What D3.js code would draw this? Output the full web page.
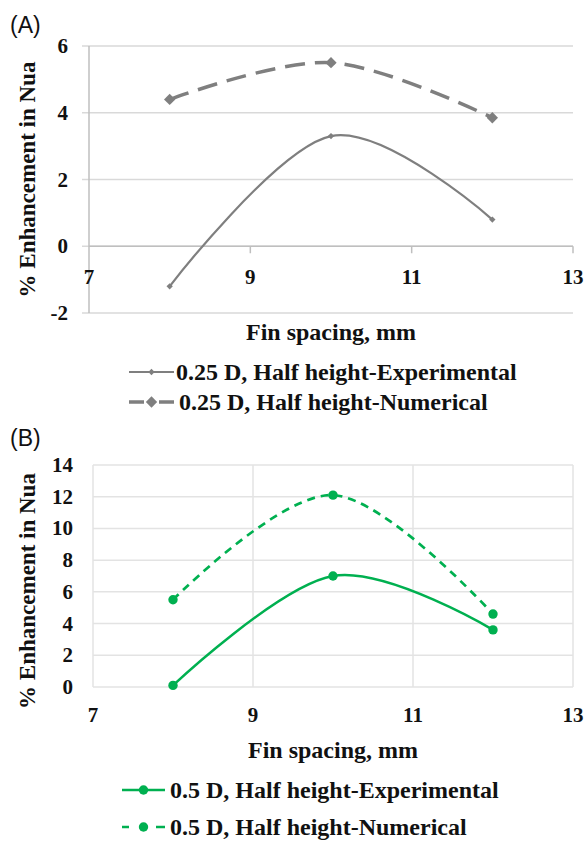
<!DOCTYPE html>
<meta charset="utf-8">
<script src="https://d3js.org/d3.v7.min.js"></script>
<style>
  body { margin: 0; background: #fff; }
  svg text { font-family: 'Liberation Serif', 'Tinos', 'Times New Roman', 'DejaVu Serif', serif; font-weight: 700; fill: #111; }
  svg text.panel-label { font-family: 'Liberation Sans', Arial, sans-serif; font-weight: 400; font-size: 23px; }
</style>
<body>
<div id="chart"></div>
<script>

// ---- data ----
const finSpacing = [8, 10, 12];
const aExperimental = [-1.2, 3.3, 0.8];
const aNumerical = [4.4, 5.5, 3.85];
const bExperimental = [0.1, 7.0, 3.6];
const bNumerical = [5.5, 12.1, 4.6];

const xTicks = [7, 9, 11, 13];
const aYTicks = [-2, 0, 2, 4, 6];
const bYTicks = [0, 2, 4, 6, 8, 10, 12, 14];

const aLegend = ["0.25 D, Half height-Experimental", "0.25 D, Half height-Numerical"];
const bLegend = ["0.5 D, Half height-Experimental", "0.5 D, Half height-Numerical"];

const grey = "#7f7f7f";
const green = "#00b050";
const gridColor = "#d9d9d9";

const svg = d3.select("#chart").append("svg")
  .attr("width", 588)
  .attr("height", 842);

svg.append("rect").attr("width", 588).attr("height", 842).attr("fill", "#fff");

const curve = d3.curveCatmullRom.alpha(0);
// diamonds = squares turned 45 degrees
const square = d3.symbol().type(d3.symbolSquare);
const bigDiamond = square.size(64)();
const smallDiamond = square.size(20)();

// ---------------- panel A ----------------
const xA = d3.scaleLinear().domain([7, 13]).range([89, 573]);
const yA = d3.scaleLinear().domain([-2, 6]).range([313, 46]);
const gA = svg.append("g");

gA.append("text").attr("class", "panel-label").attr("x", 10).attr("y", 33).text("(A)");

// horizontal gridlines (with small outward ticks)
gA.selectAll(".grid").data(aYTicks).join("line")
  .attr("x1", xA(7) - 7).attr("x2", xA(13))
  .attr("y1", d => yA(d)).attr("y2", d => yA(d))
  .attr("stroke", gridColor).attr("stroke-width", 1.5);

// vertical axis
gA.append("line")
  .attr("x1", xA(7)).attr("x2", xA(7))
  .attr("y1", yA(6)).attr("y2", yA(-2))
  .attr("stroke", "#bfbfbf").attr("stroke-width", 1.5);

// x axis at y = 0 with downward ticks
gA.append("line")
  .attr("x1", xA(7)).attr("x2", xA(13))
  .attr("y1", yA(0)).attr("y2", yA(0))
  .attr("stroke", "#bfbfbf").attr("stroke-width", 1.5);
gA.selectAll(".xt").data(xTicks.slice(1)).join("line")
  .attr("x1", d => xA(d)).attr("x2", d => xA(d))
  .attr("y1", yA(0)).attr("y2", yA(0) + 7)
  .attr("stroke", "#bfbfbf").attr("stroke-width", 1.5);

gA.selectAll(".yl").data(aYTicks).join("text")
  .attr("x", 68).attr("y", d => yA(d) + 7)
  .attr("text-anchor", "end").style("font-size", "21px")
  .text(d => d);

gA.selectAll(".xl").data(xTicks).join("text")
  .attr("x", d => xA(d)).attr("y", yA(0) + 38)
  .attr("text-anchor", "middle").style("font-size", "21px")
  .text(d => d);

gA.append("text")
  .attr("transform", `translate(35,${(yA(6) + yA(-2)) / 2}) rotate(-90)`)
  .attr("text-anchor", "middle").style("font-size", "23px")
  .text("% Enhancement  in Nua");

gA.append("text")
  .attr("x", (xA(7) + xA(13)) / 2).attr("y", 340)
  .attr("text-anchor", "middle").style("font-size", "24px")
  .text("Fin spacing, mm");

const lineA = vals => d3.line().curve(curve)
  .x((d, i) => xA(finSpacing[i])).y(d => yA(d))(vals);

gA.append("path").attr("d", lineA(aNumerical))
  .attr("fill", "none").attr("stroke", grey).attr("stroke-width", 3.5)
  .attr("stroke-dasharray", "20,10");
gA.append("path").attr("d", lineA(aExperimental))
  .attr("fill", "none").attr("stroke", grey).attr("stroke-width", 2.2);

gA.selectAll(".mn").data(aNumerical).join("path")
  .attr("d", bigDiamond)
  .attr("transform", (d, i) => `translate(${xA(finSpacing[i])},${yA(d)}) rotate(45)`)
  .attr("fill", grey);
gA.selectAll(".me").data(aExperimental).join("path")
  .attr("d", smallDiamond)
  .attr("transform", (d, i) => `translate(${xA(finSpacing[i])},${yA(d)}) rotate(45)`)
  .attr("fill", grey);

// legend A
const legA = gA.append("g");
legA.append("line").attr("x1", 129).attr("x2", 174).attr("y1", 372).attr("y2", 372)
  .attr("stroke", grey).attr("stroke-width", 2.2);
legA.append("path").attr("d", smallDiamond).attr("transform", "translate(151.5,372) rotate(45)").attr("fill", grey);
legA.append("line").attr("x1", 129).attr("x2", 174).attr("y1", 402).attr("y2", 402)
  .attr("stroke", grey).attr("stroke-width", 3.5).attr("stroke-dasharray", "15,15");
legA.append("path").attr("d", bigDiamond).attr("transform", "translate(151.5,402) rotate(45)").attr("fill", grey);
legA.append("text").attr("x", 176).attr("y", 380).style("font-size", "24px").text(aLegend[0]);
legA.append("text").attr("x", 179).attr("y", 410).style("font-size", "24px").text(aLegend[1]);

// ---------------- panel B ----------------
const xB = d3.scaleLinear().domain([7, 13]).range([93, 573]);
const yB = d3.scaleLinear().domain([0, 14]).range([687, 465]);
const gB = svg.append("g");

gB.append("text").attr("class", "panel-label").attr("x", 10).attr("y", 446).text("(B)");

gB.selectAll(".hg").data(bYTicks).join("line")
  .attr("x1", xB(7)).attr("x2", xB(13))
  .attr("y1", d => yB(d)).attr("y2", d => yB(d))
  .attr("stroke", "#e3e3e3").attr("stroke-width", 1.5);
gB.selectAll(".vg").data(xTicks).join("line")
  .attr("x1", d => xB(d)).attr("x2", d => xB(d))
  .attr("y1", yB(14)).attr("y2", yB(0))
  .attr("stroke", "#e3e3e3").attr("stroke-width", 1.5);

gB.selectAll(".yl").data(bYTicks).join("text")
  .attr("x", 73).attr("y", d => yB(d) + 7)
  .attr("text-anchor", "end").style("font-size", "21px")
  .text(d => d);

gB.selectAll(".xl").data(xTicks).join("text")
  .attr("x", d => xB(d)).attr("y", 722)
  .attr("text-anchor", "middle").style("font-size", "21px")
  .text(d => d);

gB.append("text")
  .attr("transform", `translate(35,${(yB(14) + yB(0)) / 2 + 15}) rotate(-90)`)
  .attr("text-anchor", "middle").style("font-size", "23px")
  .text("% Enhancement  in Nua");

gB.append("text")
  .attr("x", (xB(7) + xB(13)) / 2).attr("y", 758)
  .attr("text-anchor", "middle").style("font-size", "24px")
  .text("Fin spacing, mm");

const lineB = vals => d3.line().curve(curve)
  .x((d, i) => xB(finSpacing[i])).y(d => yB(d))(vals);

gB.append("path").attr("d", lineB(bNumerical))
  .attr("fill", "none").attr("stroke", green).attr("stroke-width", 2.7)
  .attr("stroke-dasharray", "8,6");
gB.append("path").attr("d", lineB(bExperimental))
  .attr("fill", "none").attr("stroke", green).attr("stroke-width", 2.5);

[bNumerical, bExperimental].forEach(series => {
  gB.append("g").selectAll("circle").data(series).join("circle")
    .attr("cx", (d, i) => xB(finSpacing[i])).attr("cy", d => yB(d))
    .attr("r", 4.7).attr("fill", green);
});

// legend B
const legB = gB.append("g");
legB.append("line").attr("x1", 122).attr("x2", 165).attr("y1", 790).attr("y2", 790)
  .attr("stroke", green).attr("stroke-width", 2.5);
legB.append("circle").attr("cx", 143.5).attr("cy", 790).attr("r", 4.7).attr("fill", green);
legB.append("line").attr("x1", 122).attr("x2", 165).attr("y1", 827).attr("y2", 827)
  .attr("stroke", green).attr("stroke-width", 2.5).attr("stroke-dasharray", "7,27,9");
legB.append("circle").attr("cx", 143.5).attr("cy", 827).attr("r", 4.7).attr("fill", green);
legB.append("text").attr("x", 170).attr("y", 798).style("font-size", "24px").text(bLegend[0]);
legB.append("text").attr("x", 170).attr("y", 835).style("font-size", "24px").text(bLegend[1]);

</script>
</body>
